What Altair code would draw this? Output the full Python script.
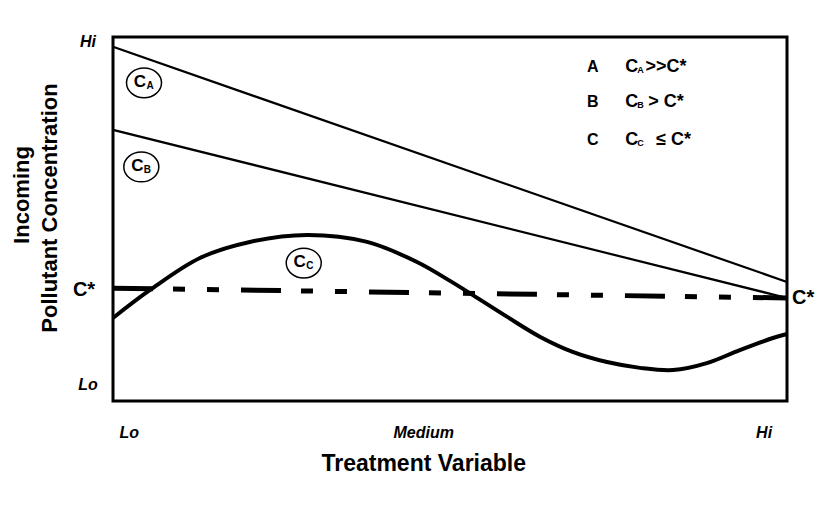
import altair as alt
import pandas as pd

FONT = "Liberation Sans"

# ---- data (x: treatment variable 0..100, y: incoming concentration 0..100) ----
line_x = [0, 100]
a_y = [97.3, 32.7]
b_y = [74.5, 28.3]
cstar_y = [31.0, 28.3]

c_x = [0, 5.5, 12.9, 20.3, 28.8, 37.7, 45.1, 50.0, 53.4, 58.5, 63.4, 68.2, 73.3, 78.2, 83.1, 88.1, 93.0, 97.9, 100]
c_y = [22.8, 30.5, 39.3, 43.7, 45.6, 43.7, 38.2, 33.0, 29.1, 23.1, 17.6, 13.5, 10.7, 9.1, 8.5, 10.4, 14.0, 17.3, 18.4]

# circled curve labels
circ_sub = ["A", "B", "C"]
circ_x = [4.6, 4.2, 28.3]
circ_y = [87.4, 64.3, 37.9]

# legend
leg_letter = ["A", "B", "C"]
leg_rest = [">>C*", "> C*", "≤ C*"]
leg_rest_x = [79.0, 79.4, 80.6]
leg_y = [91.8, 82.1, 71.7]
leg_letter_x = 71.2
leg_c_x = 76.0

# axis tick labels
ytick_italic_lab = ["Hi", "Lo"]
ytick_italic_y = [98.6, 4.4]
ytick_cstar_y = 30.5
xtick_lab = ["Lo", "Medium", "Hi"]
xtick_x = [2.4, 46.1, 96.6]

W, H = 674, 364
xs = alt.Scale(domain=[0, 100])
ys = alt.Scale(domain=[0, 100])
X = lambda f: alt.X(f, type="quantitative", scale=xs, axis=None)
Y = lambda f: alt.Y(f, type="quantitative", scale=ys, axis=None)

df_a = pd.DataFrame({"x": line_x, "y": a_y})
df_b = pd.DataFrame({"x": line_x, "y": b_y})
df_cs = pd.DataFrame({"x": line_x, "y": cstar_y})
df_c = pd.DataFrame({"x": c_x, "y": c_y})
df_circ = pd.DataFrame({"x": circ_x, "y": circ_y, "sub": circ_sub, "c": ["C"] * 3})
df_leg = pd.DataFrame({"letter": leg_letter, "rest": leg_rest, "rx": leg_rest_x,
                       "y": leg_y, "lx": [leg_letter_x] * 3, "cx": [leg_c_x] * 3,
                       "sub": leg_letter, "c": ["C"] * 3})
df_yt = pd.DataFrame({"t": ytick_italic_lab, "y": ytick_italic_y})
df_ycs = pd.DataFrame({"t": ["C*"], "y": [ytick_cstar_y]})
df_xt = pd.DataFrame({"t": xtick_lab, "x": xtick_x})

line_a = alt.Chart(df_a).mark_line(color="black", strokeWidth=2.2).encode(x=X("x"), y=Y("y"))
line_b = alt.Chart(df_b).mark_line(color="black", strokeWidth=2.2).encode(x=X("x"), y=Y("y"))
curve_c = alt.Chart(df_c).mark_line(color="black", strokeWidth=4, interpolate="catmull-rom").encode(x=X("x"), y=Y("y"))
cstar = alt.Chart(df_cs).mark_line(color="black", strokeWidth=5, strokeCap="butt",
                                   strokeDash=[40, 20, 12, 22, 12, 22]).encode(x=X("x"), y=Y("y"))

ellipse = "M -1 0 A 1 0.85 0 1 1 1 0 A 1 0.85 0 1 1 -1 0 Z"
circles = alt.Chart(df_circ).mark_point(shape=ellipse, size=1225, filled=False,
                                        color="black", strokeWidth=1.5, opacity=1).encode(x=X("x"), y=Y("y"))
circ_c = alt.Chart(df_circ).mark_text(font=FONT, fontWeight="bold", fontSize=17, dx=-4, dy=-1,
                                      color="black").encode(x=X("x"), y=Y("y"), text="c:N")
circ_s = alt.Chart(df_circ).mark_text(font=FONT, fontWeight="bold", fontSize=10, dx=6, dy=3,
                                      color="black").encode(x=X("x"), y=Y("y"), text="sub:N")

leg_l = alt.Chart(df_leg).mark_text(font=FONT, fontWeight="bold", fontSize=16, color="black").encode(
    x=X("lx"), y=Y("y"), text="letter:N")
leg_c = alt.Chart(df_leg).mark_text(font=FONT, fontWeight="bold", fontSize=18, align="left", color="black").encode(
    x=X("cx"), y=Y("y"), text="c:N")
leg_s = alt.Chart(df_leg).mark_text(font=FONT, fontWeight="bold", fontSize=9, align="left", dx=12, dy=3,
                                    color="black").encode(x=X("cx"), y=Y("y"), text="sub:N")
leg_r = alt.Chart(df_leg).mark_text(font=FONT, fontWeight="bold", fontSize=18, align="left", color="black").encode(
    x=X("rx"), y=Y("y"), text="rest:N")

ytk = alt.Chart(df_yt).mark_text(font=FONT, fontWeight="bold", fontStyle="italic", fontSize=16,
                                 color="black").encode(x=alt.value(-25), y=Y("y"), text="t:N")
ytk_cs = alt.Chart(df_ycs).mark_text(font=FONT, fontWeight="bold", fontSize=20, color="black").encode(
    x=alt.value(-29), y=Y("y"), text="t:N")
ytk_r = alt.Chart(pd.DataFrame({"t": ["C*"], "y": [cstar_y[1]]})).mark_text(
    font=FONT, fontWeight="bold", fontSize=20, align="left", color="black").encode(
    x=alt.value(W + 5), y=Y("y"), text="t:N")
xtk = alt.Chart(df_xt).mark_text(font=FONT, fontWeight="bold", fontStyle="italic", fontSize=16,
                                 color="black").encode(x=X("x"), y=alt.value(396), text="t:N")

xtitle = alt.Chart(pd.DataFrame({"t": ["Treatment Variable"], "x": [46.1]})).mark_text(
    font=FONT, fontWeight="bold", fontSize=23, color="black").encode(x=X("x"), y=alt.value(427), text="t:N")
ytitle1 = alt.Chart(pd.DataFrame({"t": ["Incoming"]})).mark_text(
    font=FONT, fontWeight="bold", fontSize=22, angle=270, color="black").encode(
    x=alt.value(-91), y=alt.value(158), text="t:N")
ytitle2 = alt.Chart(pd.DataFrame({"t": ["Pollutant Concentration"]})).mark_text(
    font=FONT, fontWeight="bold", fontSize=22, angle=270, color="black").encode(
    x=alt.value(-63), y=alt.value(171), text="t:N")

chart = alt.layer(
    line_a, line_b, curve_c, cstar, circles, circ_c, circ_s,
    leg_l, leg_c, leg_s, leg_r, ytk, ytk_cs, ytk_r, xtk, xtitle, ytitle1, ytitle2
).properties(
    width=W, height=H,
    padding={"left": 105, "top": 29, "right": 30, "bottom": 80},
    autosize=alt.AutoSizeParams(type="none"),
).configure_view(stroke="black", strokeWidth=3)

chart.save("out.html", embed_options={"renderer": "svg", "actions": False})
